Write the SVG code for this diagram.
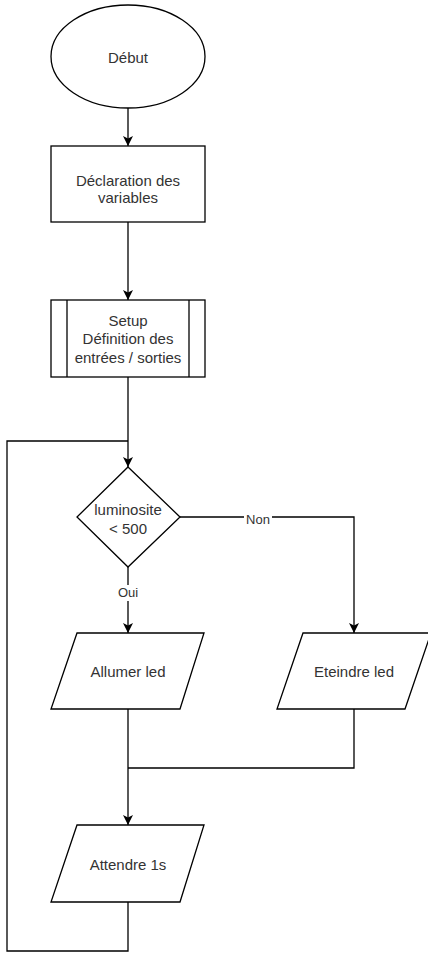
<svg xmlns="http://www.w3.org/2000/svg" width="428" height="953" viewBox="0 0 428 953">
<style>
.s{fill:#fff;stroke:#000;stroke-width:1.3}
.t{font-family:"Liberation Sans",Arial,sans-serif;font-size:15px;fill:#333;text-anchor:middle;dominant-baseline:central}
.c{fill:none;stroke:#000;stroke-width:1.3}
.lb{fill:#fff}
</style>
<defs>
<marker id="a" viewBox="0 0 10 10" refX="10" refY="5" markerWidth="10" markerHeight="10" markerUnits="userSpaceOnUse" orient="auto">
<path d="M0,0 L10,5 L0,10 L2.5,5 Z" fill="#000"/>
</marker>
</defs>
<g id="connectors">
<path class="c" d="M128,108 V146" marker-end="url(#a)"/>
<path class="c" d="M128,222 V300" marker-end="url(#a)"/>
<path class="c" d="M128,377 V467" marker-end="url(#a)"/>
<path class="c" d="M180,517 H354 V633" marker-end="url(#a)"/>
<path class="c" d="M128,567 V633" marker-end="url(#a)"/>
<path class="c" d="M128,709 V825" marker-end="url(#a)"/>
<path class="c" d="M354,709 V768 H128"/>
<path class="c" d="M128,902 V951 H7 V441 H128"/>
<rect class="lb" x="244" y="511" width="28" height="14"/>
<text class="t" x="258" y="519.5" style="font-size:13px">Non</text>
<rect class="lb" x="116" y="585" width="24" height="16"/>
<text class="t" x="128" y="592" style="font-size:13px">Oui</text>
</g>
<g id="debut">
<ellipse class="s" cx="128" cy="56.5" rx="77" ry="51.5"/>
<text class="t" x="128" y="57">Début</text>
</g>
<g id="declaration">
<rect class="s" x="51" y="146" width="154" height="76"/>
<text class="t" x="128" y="180">Déclaration des</text>
<text class="t" x="128" y="197">variables</text>
</g>
<g id="setup">
<rect class="s" x="51" y="300" width="154" height="77"/>
<line class="c" x1="67" y1="300" x2="67" y2="377"/>
<line class="c" x1="189" y1="300" x2="189" y2="377"/>
<text class="t" x="128" y="320">Setup</text>
<text class="t" x="128" y="338">Définition des</text>
<text class="t" x="128" y="357">entrées / sorties</text>
</g>
<g id="decision">
<polygon class="s" points="128,467 180,517 128,567 77,517"/>
<text class="t" x="128" y="509">luminosite</text>
<text class="t" x="128" y="528">&lt; 500</text>
</g>
<g id="allumer">
<polygon class="s" points="77,633 204,633 180,709 51,709"/>
<text class="t" x="128" y="671">Allumer led</text>
</g>
<g id="eteindre">
<polygon class="s" points="303,633 431,633 405,709 277,709"/>
<text class="t" x="354" y="671">Eteindre led</text>
</g>
<g id="attendre">
<polygon class="s" points="77,825 204,825 180,902 51,902"/>
<text class="t" x="128" y="864">Attendre 1s</text>
</g>
</svg>
